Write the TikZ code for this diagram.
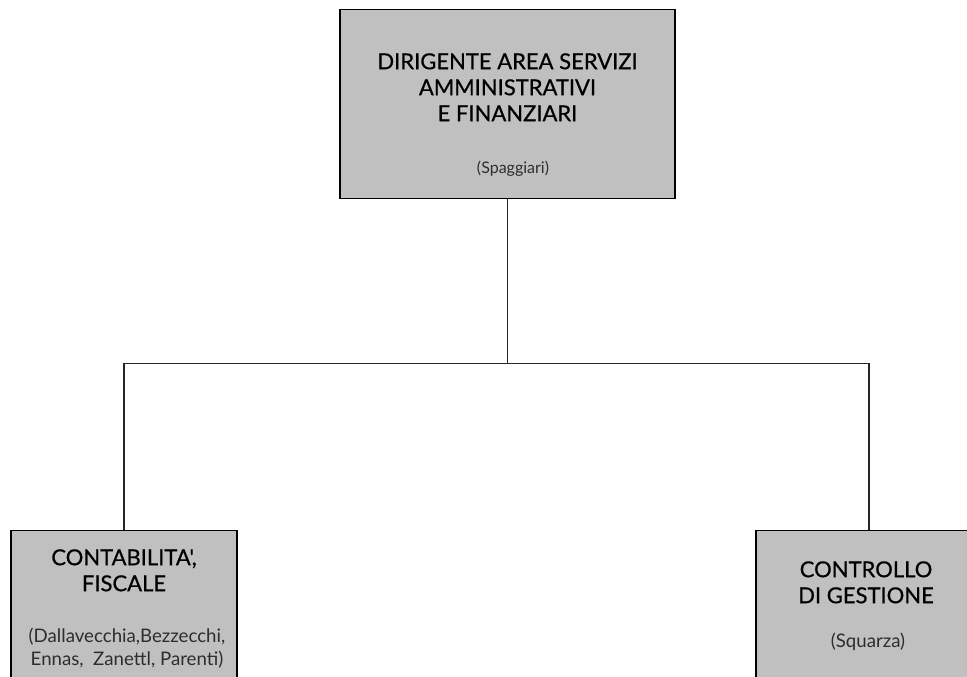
\documentclass[tikz,border=0pt]{standalone}
\usepackage{fontspec}
\setmainfont{Lato}
\newfontfamily\headfont{Lato}[FakeBold=0.6]
\usetikzlibrary{positioning}
\definecolor{boxgray}{RGB}{192,192,192}
\definecolor{namegray}{RGB}{45,45,45}
\tikzset{
  unitbox/.style={draw=black, line width=0.8pt, fill=boxgray, minimum height=141.75pt, inner sep=0pt, anchor=north},
  headtxt/.style={align=center, inner sep=0pt, anchor=north, font=\headfont\fontsize{16.5}{19.5}\selectfont, text=black},
  namestxt/.style={align=center, inner sep=0pt, anchor=north, text=namegray},
  link/.style={draw=black!85, line width=1pt}
}
\begin{document}
\begin{tikzpicture}[x=0.75pt, y=-0.75pt]
  \useasboundingbox (0,0) rectangle (967,676);
  \clip (0,0) rectangle (967,676);
  % boxes
  \node[unitbox, minimum width=251.25pt] (dir) at (507.5,9) {};
  \node[unitbox, minimum width=169.5pt] (acc) at (124,530) {};
  \node[unitbox, minimum width=169.5pt] (ctrl) at (869,530) {};
  % texts
  \node[headtxt] (dirhead) at (507.5,53) {DIRIGENTE AREA SERVIZI\\AMMINISTRATIVI\\E FINANZIARI};
  \node[namestxt, font=\fontsize{12}{15}\selectfont] (dirname) at (513,161) {(Spaggiari)};
  \node[headtxt] (acchead) at (124,549) {CONTABILITA',\\FISCALE};
  \node[namestxt, font=\fontsize{14}{17.25}\selectfont] (accname) at (127,628) {(Dallavecchia,Bezzecchi,\\Ennas,\ \ Zanettl, Parenti)};
  \node[headtxt] (ctrlhead) at (866,561) {CONTROLLO\\DI GESTIONE};
  \node[namestxt, font=\fontsize{14}{17.25}\selectfont] (ctrlname) at (868,633) {(Squarza)};
  % connectors
  \coordinate (jn) at (507.5,363.5);
  \draw[link] (dir.south) -- (jn);
  \draw[link] (acc.north) |- (jn) -| (ctrl.north);
\end{tikzpicture}
\end{document}
